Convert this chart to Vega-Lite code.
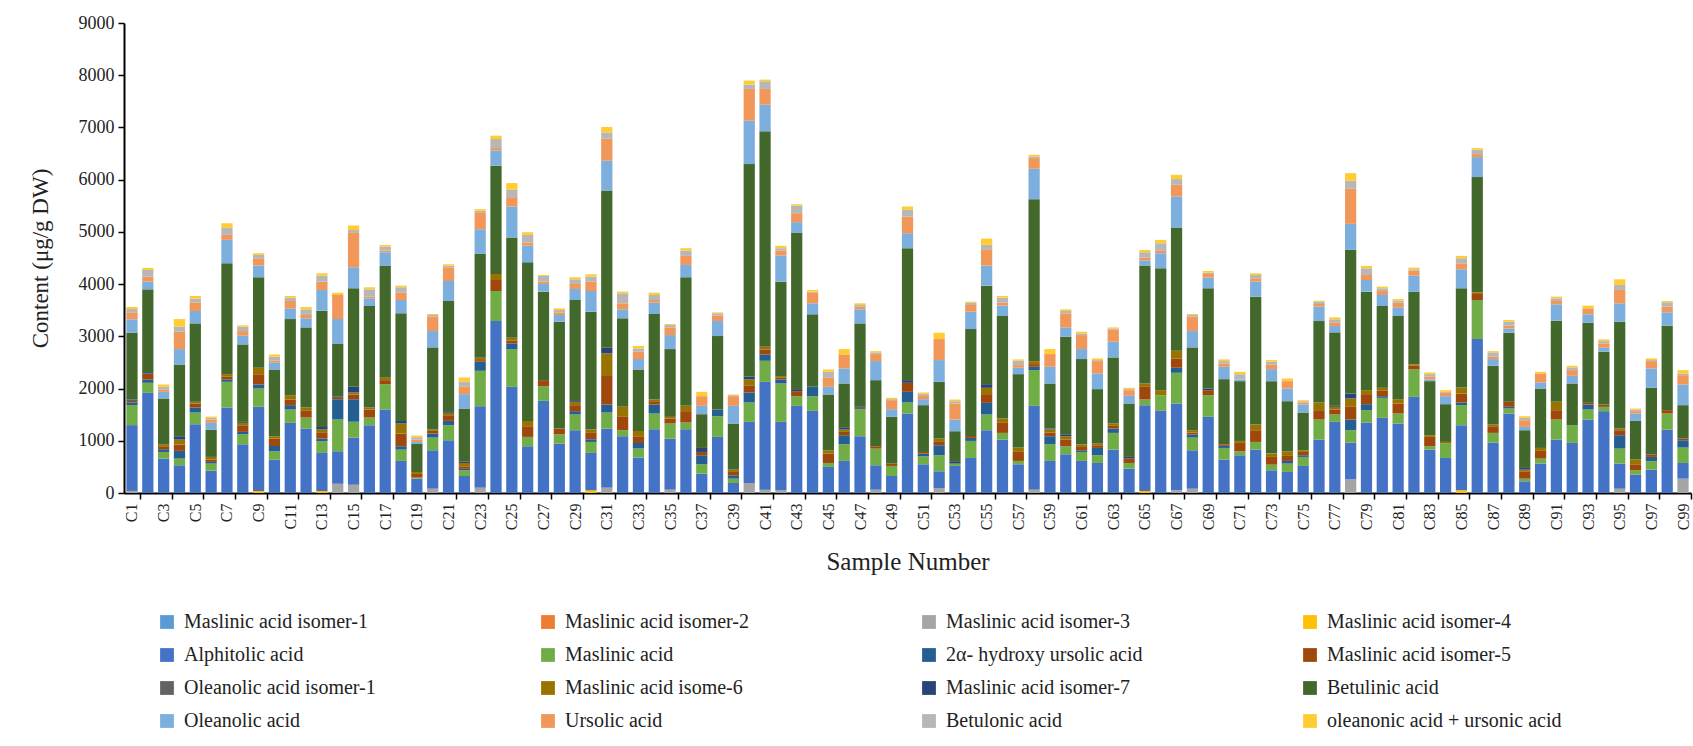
{
"$schema": "https://vega.github.io/schema/vega-lite/v6.json",
"autosize": {"type": "none"},
"padding": {"left": 124, "top": 23, "right": 2, "bottom": 253},
"width": 1567,
"height": 470,
"background": "white",
"config": {"view": {"stroke": null}, "font": "Liberation Serif", "axis": {"labelFont": "Liberation Serif", "titleFont": "Liberation Serif"}, "legend": {"labelFont": "Liberation Serif"}},
"data": {"values": [
{"s":"C1","c":40,"e":1260,"f":385,"g":50,"h":30,"k":25,"l":1280,"m":256,"n":134,"o":64,"p":38},
{"s":"C2","e":1918,"f":192,"g":64,"h":115,"k":26,"l":1585,"m":147,"n":96,"o":128,"p":39},
{"s":"C3","e":659,"f":127,"g":52,"h":57,"j":39,"l":876,"m":127,"n":45,"o":51,"p":45},
{"s":"C4","e":531,"f":128,"g":147,"h":121,"j":96,"k":64,"l":1375,"m":294,"n":332,"o":96,"p":147},
{"s":"C5","e":1317,"f":224,"g":96,"h":77,"j":32,"l":1502,"m":237,"n":160,"o":76,"p":51},
{"s":"C6","e":428,"f":135,"g":32,"h":44,"j":52,"l":524,"m":128,"n":64,"o":32,"p":25},
{"s":"C7","e":1637,"f":492,"g":45,"h":51,"j":51,"l":2123,"m":448,"n":96,"o":134,"p":89},
{"s":"C8","e":933,"f":192,"g":45,"h":115,"j":58,"k":19,"l":1483,"m":167,"n":89,"o":83,"p":26},
{"s":"C9","d":40,"e":1610,"f":351,"g":77,"h":198,"j":122,"l":1733,"m":223,"n":141,"o":64,"p":32},
{"s":"C10","e":639,"f":160,"g":103,"h":140,"j":45,"l":1279,"m":128,"n":38,"o":77,"p":45},
{"s":"C11","e":1343,"f":256,"g":83,"h":108,"j":83,"l":1458,"m":205,"n":141,"o":64,"p":31},
{"s":"C12","e":1234,"f":211,"h":128,"j":64,"l":1534,"m":173,"n":64,"o":109,"p":44},
{"s":"C13","d":38,"e":729,"f":224,"g":51,"h":109,"j":64,"k":51,"l":2225,"m":397,"n":159,"o":115,"p":45},
{"s":"C14","c":179,"e":620,"f":608,"g":390,"h":20,"i":24,"l":1024,"m":466,"n":461,"p":44},
{"s":"C15","c":160,"e":901,"f":301,"g":435,"h":89,"j":39,"k":108,"l":1887,"m":402,"n":672,"o":44,"p":84},
{"s":"C16","e":1298,"f":147,"h":154,"j":38,"l":1944,"m":147,"n":32,"o":140,"p":39},
{"s":"C17","e":1599,"f":485,"h":77,"j":45,"l":2148,"m":256,"n":32,"o":77,"p":32},
{"s":"C18","e":614,"f":217,"g":64,"h":243,"j":192,"k":51,"l":2059,"m":256,"n":140,"o":103,"p":32},
{"s":"C19","e":275,"f":20,"h":70,"j":37,"l":537,"m":38,"n":45,"o":45,"p":32},
{"s":"C20","c":83,"e":735,"f":243,"g":77,"h":51,"j":26,"l":1573,"m":313,"n":275,"o":32,"p":19},
{"s":"C21","e":1010,"f":288,"g":83,"h":109,"j":45,"k":32,"l":2110,"m":383,"n":262,"o":32,"p":26},
{"s":"C22","e":326,"f":109,"g":27,"h":50,"j":63,"k":32,"l":1011,"m":275,"n":140,"o":96,"p":83},
{"s":"C23","c":102,"e":1560,"f":678,"g":173,"h":32,"j":45,"l":1988,"m":473,"n":326,"o":26,"p":32},
{"s":"C24","e":3293,"f":575,"h":211,"j":115,"l":2072,"m":294,"n":45,"o":173,"p":64},
{"s":"C25","e":2033,"f":716,"g":116,"h":51,"j":57,"l":1918,"m":595,"n":179,"o":141,"p":128},
{"s":"C26","e":895,"f":179,"h":205,"j":102,"l":3037,"m":320,"n":58,"o":147,"p":51},
{"s":"C27","e":1765,"f":281,"h":115,"l":1695,"m":147,"n":44,"o":109,"p":19},
{"s":"C28","e":946,"f":179,"h":109,"l":2046,"m":128,"n":51,"o":45,"p":32},
{"s":"C29","e":1202,"f":301,"g":64,"h":115,"j":64,"k":32,"l":1918,"m":211,"n":96,"o":89,"p":39},
{"s":"C30","d":51,"e":716,"f":211,"g":51,"h":122,"j":64,"l":2257,"m":396,"n":179,"o":96,"p":45},
{"s":"C31","c":102,"e":1132,"f":307,"g":153,"h":563,"j":416,"k":108,"l":3012,"m":569,"n":422,"o":121,"p":103},
{"s":"C32","e":1087,"f":115,"h":256,"j":192,"l":1694,"m":173,"n":115,"o":192,"p":32},
{"s":"C33","e":678,"f":172,"g":109,"h":128,"j":102,"l":1177,"m":198,"n":141,"o":64,"p":44},
{"s":"C34","e":1221,"f":301,"g":172,"h":64,"j":32,"l":1637,"m":218,"n":51,"o":96,"p":44},
{"s":"C35","c":64,"e":978,"f":288,"h":96,"j":32,"l":1298,"m":268,"n":147,"o":45,"p":19},
{"s":"C36","e":1221,"f":128,"h":218,"j":102,"l":2462,"m":236,"n":173,"o":102,"p":45},
{"s":"C37","e":371,"f":179,"g":173,"h":63,"k":77,"l":646,"m":160,"n":185,"p":83},
{"s":"C38","e":1074,"f":397,"g":128,"l":1406,"m":288,"n":102,"o":45,"p":19},
{"s":"C39","e":192,"f":83,"g":64,"h":64,"j":45,"l":882,"m":339,"n":185,"o":19,"p":13},
{"s":"C40","c":192,"e":1170,"f":371,"g":192,"h":127,"j":122,"k":51,"l":4073,"m":831,"n":608,"o":83,"p":77},
{"s":"C41","c":64,"e":2065,"f":403,"g":122,"h":95,"j":52,"l":4124,"m":511,"n":301,"o":147,"p":32},
{"s":"C42","c":51,"e":1311,"f":735,"g":77,"h":32,"j":32,"l":1809,"m":499,"n":96,"o":45,"p":45},
{"s":"C43","e":1669,"f":185,"h":96,"k":39,"l":2998,"m":199,"n":172,"o":147,"p":26},
{"s":"C44","e":1573,"f":281,"g":179,"l":1388,"m":211,"n":211,"o":13,"p":32},
{"s":"C45","e":499,"f":76,"h":179,"j":64,"l":1068,"m":147,"n":173,"o":115,"p":45},
{"s":"C46","e":614,"f":319,"g":173,"h":64,"j":45,"k":32,"l":850,"m":288,"n":269,"p":102},
{"s":"C47","e":1087,"f":512,"i":51,"l":1598,"m":269,"n":51,"o":32,"p":32},
{"s":"C48","c":64,"e":467,"f":319,"h":45,"l":1266,"m":365,"n":134,"o":32,"p":25},
{"s":"C49","e":326,"f":192,"h":45,"l":895,"m":147,"n":173,"o":19,"p":25},
{"s":"C50","e":1522,"f":211,"g":204,"h":173,"k":51,"l":2526,"m":288,"n":319,"o":128,"p":64},
{"s":"C51","e":550,"f":153,"g":51,"h":32,"l":896,"m":115,"n":76,"o":32,"p":20},
{"s":"C52","c":96,"e":320,"f":307,"g":191,"h":64,"j":64,"l":1087,"m":416,"n":403,"p":121},
{"s":"C53","e":518,"f":45,"k":32,"l":588,"m":224,"n":307,"o":44,"p":32},
{"s":"C54","e":671,"f":326,"g":58,"h":38,"l":2046,"m":333,"n":128,"o":45,"p":19},
{"s":"C55","e":1202,"f":301,"g":223,"h":167,"j":121,"k":70,"l":1887,"m":383,"n":314,"o":83,"p":121},
{"s":"C56","e":1023,"f":128,"h":192,"j":83,"l":1963,"m":198,"n":58,"o":96,"p":31},
{"s":"C57","e":550,"f":64,"h":185,"j":71,"l":1406,"m":122,"n":51,"o":83,"p":26},
{"s":"C58","c":64,"e":1605,"f":684,"g":64,"h":51,"j":58,"l":3101,"m":582,"n":204,"o":32,"p":32},
{"s":"C59","e":614,"f":319,"g":154,"h":70,"j":58,"k":19,"l":863,"m":320,"n":243,"p":96},
{"s":"C60","e":742,"f":153,"h":128,"j":64,"k":38,"l":1867,"m":179,"n":269,"o":45,"p":32},
{"s":"C61","e":614,"f":172,"g":32,"h":64,"j":45,"l":1637,"m":192,"n":268,"o":32,"p":32},
{"s":"C62","e":575,"f":148,"g":140,"h":51,"j":32,"l":1043,"m":300,"n":237,"o":19,"p":32},
{"s":"C63","e":831,"f":320,"g":83,"h":51,"j":45,"l":1266,"m":301,"n":236,"o":19,"p":19},
{"s":"C64","e":467,"f":108,"h":84,"k":32,"l":1023,"m":147,"n":108,"o":20,"p":25},
{"s":"C65","d":38,"e":1644,"f":108,"h":256,"j":51,"l":2257,"m":96,"n":58,"o":102,"p":45},
{"s":"C66","e":1573,"f":300,"j":96,"l":2334,"m":288,"n":45,"o":147,"p":64},
{"s":"C67","c":51,"e":1663,"f":588,"g":96,"h":179,"j":147,"l":2359,"m":595,"n":224,"o":109,"p":82},
{"s":"C68","c":83,"e":735,"f":243,"g":58,"h":38,"j":45,"l":1586,"m":313,"n":275,"o":32,"p":19},
{"s":"C69","e":1458,"f":415,"h":96,"k":32,"l":1919,"m":204,"n":70,"o":26,"p":32},
{"s":"C70","e":639,"f":224,"g":39,"h":31,"l":1247,"m":237,"n":64,"o":45,"p":32},
{"s":"C71","e":723,"f":76,"h":160,"j":38,"l":1145,"m":32,"o":102,"p":45},
{"s":"C72","e":831,"f":147,"h":224,"j":109,"l":2449,"m":287,"n":64,"o":64,"p":32},
{"s":"C73","e":435,"f":108,"h":148,"j":63,"l":1388,"m":230,"n":90,"o":51,"p":32},
{"s":"C74","e":403,"f":160,"g":51,"h":96,"j":89,"l":959,"m":243,"n":141,"p":51},
{"s":"C75","e":518,"f":173,"g":32,"h":63,"j":32,"l":723,"m":153,"n":39,"o":25,"p":19},
{"s":"C76","e":1023,"f":384,"h":179,"j":147,"l":1560,"m":275,"n":51,"o":45,"p":19},
{"s":"C77","e":1362,"f":141,"h":96,"j":51,"k":19,"l":1407,"m":121,"n":70,"o":58,"p":38},
{"s":"C78","c":262,"e":704,"f":236,"g":205,"h":243,"j":160,"k":95,"l":2750,"m":499,"n":671,"o":153,"p":147},
{"s":"C79","e":1349,"f":237,"g":115,"h":192,"j":76,"l":1887,"m":223,"n":96,"o":128,"p":45},
{"s":"C80","e":1439,"f":383,"g":32,"h":103,"j":57,"l":1567,"m":211,"n":76,"o":52,"p":32},
{"s":"C81","e":1330,"f":192,"h":192,"j":83,"l":1592,"m":166,"n":90,"o":38,"p":32},
{"s":"C82","e":1841,"f":525,"h":70,"j":26,"l":1394,"m":306,"n":96,"o":26,"p":32},
{"s":"C83","e":831,"f":64,"h":179,"j":32,"l":1036,"m":32,"n":51,"o":51,"p":32},
{"s":"C84","e":671,"f":275,"j":32,"l":723,"m":153,"n":64,"o":19,"p":32},
{"s":"C85","d":51,"e":1247,"f":384,"g":51,"h":172,"j":115,"l":1900,"m":364,"n":115,"o":96,"p":45},
{"s":"C86","e":2948,"f":748,"h":115,"j":32,"l":2206,"m":383,"n":58,"o":83,"p":32},
{"s":"C87","e":966,"f":185,"h":115,"j":45,"l":1125,"m":128,"n":45,"o":83,"p":25},
{"s":"C88","e":1522,"f":96,"g":32,"h":96,"l":1323,"m":83,"n":51,"o":77,"p":32},
{"s":"C89","e":224,"f":51,"h":141,"j":32,"k":32,"l":722,"m":64,"n":128,"o":45,"p":32},
{"s":"C90","e":563,"f":96,"h":147,"j":57,"l":1138,"m":115,"n":173,"p":32},
{"s":"C91","e":1023,"f":384,"h":179,"j":160,"l":1553,"m":314,"n":64,"o":51,"p":32},
{"s":"C92","e":959,"f":339,"l":799,"m":147,"n":109,"o":51,"p":32},
{"s":"C93","e":1407,"f":192,"g":95,"h":32,"l":1535,"m":160,"n":115,"p":51},
{"s":"C94","e":1567,"f":83,"h":44,"l":1011,"m":76,"n":84,"o":44,"p":32},
{"s":"C95","c":83,"e":480,"f":287,"g":256,"h":96,"j":32,"l":2046,"m":352,"n":256,"o":96,"p":108},
{"s":"C96","e":352,"f":83,"h":115,"j":96,"l":735,"m":141,"n":45,"o":32,"p":19},
{"s":"C97","e":448,"f":159,"g":84,"h":44,"l":1279,"m":371,"n":141,"o":19,"p":32},
{"s":"C98","e":1215,"f":307,"h":64,"l":1617,"m":256,"n":109,"o":83,"p":26},
{"s":"C99","c":275,"e":300,"f":295,"g":140,"h":32,"l":640,"m":396,"n":179,"o":32,"p":64}
]},
"transform": [
{"fold": ["a","b","c","d","e","f","g","h","i","j","k","l","m","n","o","p"], "as": ["key","v"]},
{"filter": "datum.v > 0"},
{"lookup": "key", "from": {"data": {"values": [
{"key":"a","name":"Maslinic acid isomer-1","r":1},
{"key":"b","name":"Maslinic acid isomer-2","r":2},
{"key":"c","name":"Maslinic acid isomer-3","r":3},
{"key":"d","name":"Maslinic acid isomer-4","r":4},
{"key":"e","name":"Alphitolic acid","r":5},
{"key":"f","name":"Maslinic acid","r":6},
{"key":"g","name":"2α- hydroxy ursolic acid","r":7},
{"key":"h","name":"Maslinic acid isomer-5","r":8},
{"key":"i","name":"Oleanolic acid isomer-1","r":9},
{"key":"j","name":"Maslinic acid isome-6","r":10},
{"key":"k","name":"Maslinic acid isomer-7","r":11},
{"key":"l","name":"Betulinic acid","r":12},
{"key":"m","name":"Oleanolic acid","r":13},
{"key":"n","name":"Ursolic acid","r":14},
{"key":"o","name":"Betulonic acid","r":15},
{"key":"p","name":"oleanonic acid + ursonic acid","r":16}
]}, "key": "key", "fields": ["name","r"]}}
],
"mark": {"type": "bar"},
"encoding": {
"x": {"field": "s", "type": "nominal", "sort": null,
 "scale": {"paddingInner": 0.29, "paddingOuter": 0.15},
 "axis": {"values": ["C1","C3","C5","C7","C9","C11","C13","C15","C17","C19","C21","C23","C25","C27","C29","C31","C33","C35","C37","C39","C41","C43","C45","C47","C49","C51","C53","C55","C57","C59","C61","C63","C65","C67","C69","C71","C73","C75","C77","C79","C81","C83","C85","C87","C89","C91","C93","C95","C97","C99"],
  "labelAngle": -90, "labelFontSize": 16, "labelColor": "#222", "labelPadding": 4,
  "tickOffset": 7.9, "labelOffset": -7.9, "tickColor": "#000", "tickSize": 6, "tickWidth": 1.5,
  "domainColor": "#000", "domainWidth": 2,
  "title": "Sample Number", "titleFontSize": 25, "titleFontWeight": "normal", "titleColor": "#222", "titlePadding": 20}},
"y": {"field": "v", "type": "quantitative", "stack": "zero",
 "scale": {"domain": [0, 9000], "nice": false},
 "axis": {"values": [0,1000,2000,3000,4000,5000,6000,7000,8000,9000], "format": "d", "grid": false,
  "labelFontSize": 18, "labelColor": "#222", "labelPadding": 4,
  "tickColor": "#000", "tickSize": 6, "tickWidth": 1.5, "domainColor": "#000", "domainWidth": 2,
  "title": "Content (μg/g DW)", "titleFontSize": 23, "titleFontWeight": "normal", "titleColor": "#222", "titlePadding": 26}},
"color": {"field": "name", "type": "nominal",
 "scale": {"domain": ["Maslinic acid isomer-1","Maslinic acid isomer-2","Maslinic acid isomer-3","Maslinic acid isomer-4","Alphitolic acid","Maslinic acid","2α- hydroxy ursolic acid","Maslinic acid isomer-5","Oleanolic acid isomer-1","Maslinic acid isome-6","Maslinic acid isomer-7","Betulinic acid","Oleanolic acid","Ursolic acid","Betulonic acid","oleanonic acid + ursonic acid"],
  "range": ["#5B9BD5","#ED7D31","#A5A5A5","#FFC000","#4472C4","#70AD47","#255E91","#9E480E","#636363","#997300","#264478","#43682B","#7CAFDD","#F1975A","#B7B7B7","#FFCD33"]},
 "legend": {"title": null, "orient": "none", "legendX": 33, "legendY": 589, "direction": "horizontal", "columns": 4,
  "gridAlign": "all", "columnPadding": 119, "rowPadding": 13, "symbolType": "square", "symbolSize": 190, "symbolStrokeWidth": 0,
  "labelFontSize": 20, "labelColor": "#222", "labelLimit": 400, "labelOffset": 7}},
"order": {"field": "r", "type": "quantitative", "sort": "ascending"}
}
}
